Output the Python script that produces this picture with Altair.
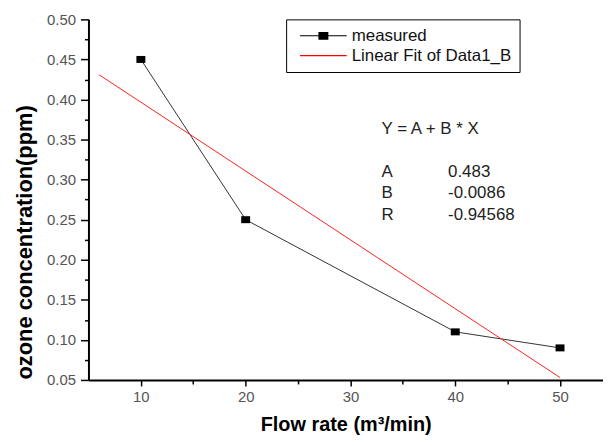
import altair as alt
import pandas as pd

# ---- data ----
flow_rate = [10, 20, 40, 50]
ozone_ppm = [0.45, 0.25, 0.11, 0.09]
fit_x = [6, 50]
fit_y = [0.431, 0.053]
series_names = ["measured", "Linear Fit of Data1_B"]
series_colors = ["#000000", "#ff0000"]
x_major = [10, 20, 30, 40, 50]
x_minor = [15, 25, 35, 45]
y_major = [0.05, 0.10, 0.15, 0.20, 0.25, 0.30, 0.35, 0.40, 0.45, 0.50]
y_minor = [0.075, 0.125, 0.175, 0.225, 0.275, 0.325, 0.375, 0.425, 0.475]
equation = "Y = A + B * X"
param_names = ["A", "B", "R"]
param_values = ["0.483", "-0.0086", "-0.94568"]

FONT = "Liberation Sans"
measured = pd.DataFrame({"x": flow_rate, "y": ozone_ppm})
fit = pd.DataFrame({"x": fit_x, "y": fit_y})
legend_df = pd.DataFrame({"series": series_names})
params = pd.DataFrame({"name": param_names, "value": param_values})

xs = alt.Scale(domain=[5, 54.1], nice=False, zero=False)
ys = alt.Scale(domain=[0.05, 0.50], nice=False, zero=False)

x_main_axis = alt.Axis(
    orient="bottom", values=x_major, format="d", tickSize=6, tickWidth=1.5,
    tickColor="black", domainColor="black", domainWidth=2,
    labelFont=FONT, labelFontSize=15, labelColor="#555", labelPadding=4,
    title="Flow rate (m³/min)", titleFont=FONT, titleFontSize=20,
    titleFontWeight="bold", titleColor="black", titleY=45,
    titleBaseline="middle", grid=False,
)
y_main_axis = alt.Axis(
    orient="left", values=y_major, format=".2f", tickSize=8, tickWidth=1.5,
    tickColor="black", domainColor="black", domainWidth=2,
    labelFont=FONT, labelFontSize=15, labelColor="#555", labelPadding=5,
    title="ozone concentration(ppm)", titleFont=FONT, titleFontSize=22,
    titleFontWeight="bold", titleColor="black", titleAngle=270,
    titleX=-64, titleY=224, titleAlign="center", titleBaseline="middle",
    grid=False,
)
x_minor_axis = alt.Axis(orient="bottom", values=x_minor, tickSize=4, tickWidth=1.5,
                        tickColor="black", labels=False, domain=False, title=None, grid=False)
y_minor_axis = alt.Axis(orient="left", values=y_minor, tickSize=4, tickWidth=1.5,
                        tickColor="black", labels=False, domain=False, title=None, grid=False)

measured_line = alt.Chart(measured).mark_line(color="#333", strokeWidth=1).encode(
    x=alt.X("x:Q", scale=xs, axis=x_main_axis),
    y=alt.Y("y:Q", scale=ys, axis=y_main_axis),
)
minor_ticks = alt.Chart(measured).mark_point(opacity=0).encode(
    x=alt.X("x:Q", scale=xs, axis=x_minor_axis),
    y=alt.Y("y:Q", scale=ys, axis=y_minor_axis),
)
fit_line = alt.Chart(fit).mark_line(color="#ff2020", strokeWidth=1).encode(
    x=alt.X("x:Q", scale=xs, axis=None),
    y=alt.Y("y:Q", scale=ys, axis=None),
)
markers = alt.Chart(measured).mark_point(
    shape="M-1,-0.78H1V0.78H-1Z", size=81, filled=True, color="black", opacity=1
).encode(
    x=alt.X("x:Q", scale=xs, axis=None),
    y=alt.Y("y:Q", scale=ys, axis=None),
)

path_measured = "M-4.7,-0.12H-1V0.12H-4.7Z M-1,-0.78H1V0.78H-1Z M1,-0.12H4.7V0.12H1Z"
path_fit = "M-4.7,-0.12H4.7V0.12H-4.7Z"
leg = alt.Legend(
    title=None, orient="none", legendX=199, legendY=0,
    strokeColor="black", fillColor="white", padding=8,
    labelFont=FONT, labelFontSize=17, labelColor="#111", labelLimit=400,
    symbolOffset=21, labelOffset=20, rowPadding=2, symbolOpacity=1,
)
legend_layer = alt.Chart(legend_df).mark_point(filled=True, size=81, opacity=0).encode(
    x=alt.value(-200), y=alt.value(-200),
    color=alt.Color("series:N", scale=alt.Scale(domain=series_names, range=series_colors), legend=leg),
    shape=alt.Shape("series:N", scale=alt.Scale(domain=series_names, range=[path_measured, path_fit]), legend=leg),
)

eq_text = alt.Chart(pd.DataFrame({"t": [equation]})).mark_text(
    align="left", baseline="middle", font=FONT, fontSize=17, color="#222"
).encode(x=alt.value(295), y=alt.value(110), text="t:N")

param_layers = []
row_y = [154, 175, 197]
for i in range(len(param_names)):
    sub = params.iloc[[i]]
    param_layers.append(alt.Chart(sub).mark_text(
        align="left", baseline="middle", font=FONT, fontSize=17, color="#222"
    ).encode(x=alt.value(295), y=alt.value(row_y[i]), text="name:N"))
    param_layers.append(alt.Chart(sub).mark_text(
        align="left", baseline="middle", font=FONT, fontSize=17, color="#222"
    ).encode(x=alt.value(362), y=alt.value(row_y[i]), text="value:N"))

chart = alt.layer(
    measured_line, minor_ticks, fit_line, markers, legend_layer, eq_text, *param_layers
).resolve_axis(x="independent", y="independent").properties(
    width=518, height=363,
    autosize=alt.AutoSizeParams(type="none"),
    padding={"left": 81, "top": 10, "right": 0, "bottom": 57},
    background="white",
).configure_view(stroke=None)

chart.save("out.html", embed_options={"renderer": "svg", "actions": False})
